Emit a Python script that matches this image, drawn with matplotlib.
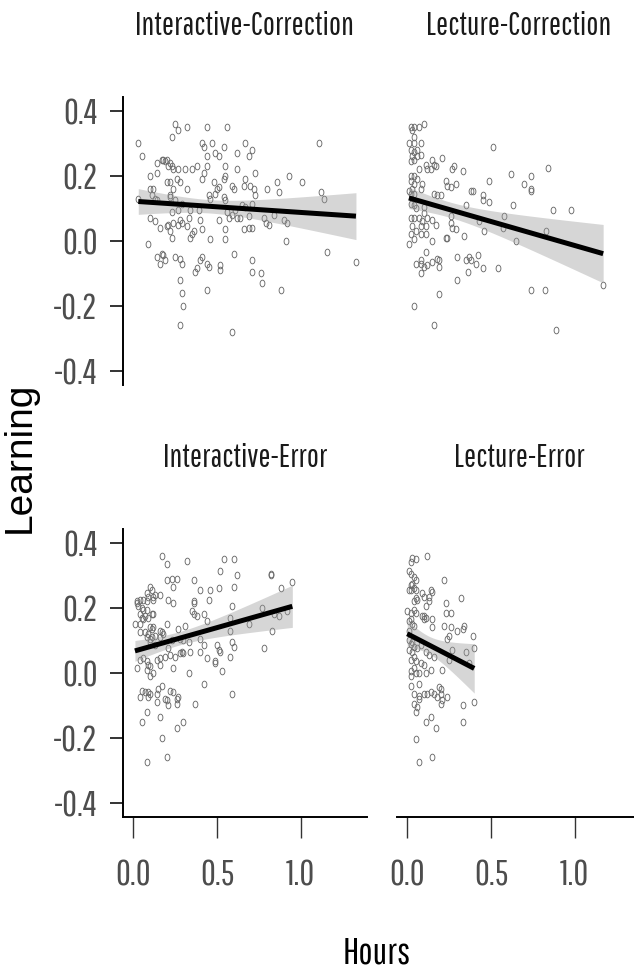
import numpy as np
import matplotlib
matplotlib.use("Agg")
import matplotlib.pyplot as plt
from matplotlib import font_manager
from matplotlib.path import Path

# ---------------- data ----------------
panel_titles = ["Interactive-Correction", "Lecture-Correction",
                "Interactive-Error", "Lecture-Error"]

ic_hours = [0.25, 0.27, 0.32, 0.44, 0.56, 0.23, 0.03, 0.05, 0.41, 0.42, 0.47, 0.54, 0.67, 0.71, 0.69,
            0.44, 0.49, 0.51, 0.62, 1.11, 0.18, 0.19, 0.20, 0.21, 0.23, 0.22, 0.14, 0.14, 0.10, 0.17,
            0.27, 0.31, 0.35, 0.38, 0.44, 0.42, 0.55, 0.62, 0.73, 0.93, 1.01, 0.20, 0.22, 0.26, 0.28,
            0.24, 0.22, 0.22, 0.32, 0.10, 0.12, 0.41, 0.48, 0.50, 0.51, 0.54, 0.55, 0.59, 0.60, 0.66,
            0.67, 0.70, 0.72, 0.73, 0.80, 0.86, 0.87, 1.12, 1.14, 0.24, 0.03, 0.11, 0.13, 0.14, 0.25,
            0.29, 0.34, 0.39, 0.45, 0.46, 0.54, 0.55, 0.56, 0.61, 0.65, 0.67, 0.71, 0.49, 0.10, 0.13,
            0.16, 0.20, 0.21, 0.24, 0.23, 0.27, 0.28, 0.29, 0.27, 0.33, 0.32, 0.35, 0.36, 0.34, 0.40,
            0.41, 0.46, 0.51, 0.55, 0.55, 0.57, 0.59, 0.62, 0.64, 0.66, 0.69, 0.69, 0.71, 0.78, 0.79,
            0.81, 0.84, 0.90, 0.92, 0.91, 0.22, 0.23, 0.09, 0.14, 0.16, 0.17, 0.18, 0.19, 0.25, 0.28,
            0.29, 0.37, 0.38, 0.40, 0.41, 0.44, 0.45, 0.52, 0.52, 0.60, 0.71, 0.71, 0.76, 0.77, 0.88,
            1.16, 1.33, 0.28, 0.29, 0.30, 0.44, 0.28, 0.59]
ic_learning = [0.36, 0.34, 0.35, 0.35, 0.35, 0.32, 0.30, 0.26, 0.30, 0.29, 0.30, 0.29, 0.30, 0.28, 0.26,
               0.26, 0.27, 0.26, 0.27, 0.30, 0.25, 0.245, 0.25, 0.23, 0.23, 0.24, 0.24, 0.21, 0.20, 0.25,
               0.22, 0.22, 0.22, 0.23, 0.23, 0.21, 0.23, 0.22, 0.21, 0.20, 0.18, 0.18, 0.18, 0.19, 0.18,
               0.16, 0.14, 0.135, 0.16, 0.16, 0.16, 0.19, 0.18, 0.16, 0.165, 0.19, 0.20, 0.17, 0.16, 0.17,
               0.19, 0.17, 0.16, 0.14, 0.16, 0.18, 0.15, 0.15, 0.13, 0.22, 0.13, 0.14, 0.13, 0.125, 0.125,
               0.115, 0.095, 0.095, 0.14, 0.13, 0.135, 0.125, 0.09, 0.095, 0.11, 0.105, 0.115, 0.145, 0.07, 0.06,
               0.04, 0.045, 0.05, 0.055, 0.09, 0.095, 0.065, 0.055, 0.05, 0.07, 0.045, 0.02, 0.03, 0.01, 0.065,
               0.035, 0.005, 0.065, 0.035, 0.005, 0.07, 0.08, 0.07, 0.07, 0.035, 0.075, 0.04, 0.04, 0.07, 0.055,
               0.05, 0.08, 0.065, 0.055, 0.0, 0.03, 0.01, -0.01, -0.05, -0.07, -0.04, -0.045, -0.06, -0.05, -0.055,
               -0.07, -0.095, -0.085, -0.06, -0.05, -0.07, -0.08, -0.075, -0.09, -0.04, -0.06, -0.095, -0.10, -0.13, -0.15,
               -0.035, -0.065, -0.12, -0.16, -0.20, -0.15, -0.26, -0.28]

lc_hours = [0.02, 0.04, 0.03, 0.07, 0.10, 0.04, 0.01, 0.04, 0.08, 0.02, 0.04, 0.06, 0.03, 0.08, 0.02,
            0.04, 0.06, 0.21, 0.15, 0.16, 0.17, 0.14, 0.11, 0.12, 0.07, 0.28, 0.27, 0.33, 0.51, 0.84,
            0.62, 0.74, 0.70, 0.74, 0.74, 0.49, 0.23, 0.24, 0.26, 0.29, 0.02, 0.04, 0.02, 0.06, 0.04,
            0.09, 0.08, 0.01, 0.03, 0.02, 0.04, 0.16, 0.18, 0.20, 0.38, 0.39, 0.45, 0.45, 0.49, 0.63,
            0.87, 0.98, 0.35, 0.02, 0.04, 0.05, 0.10, 0.10, 0.02, 0.04, 0.07, 0.09, 0.12, 0.15, 0.17,
            0.26, 0.26, 0.27, 0.29, 0.23, 0.24, 0.34, 0.15, 0.11, 0.08, 0.11, 0.08, 0.05, 0.03, 0.02,
            0.01, 0.04, 0.43, 0.46, 0.58, 0.57, 0.65, 0.83, 0.11, 0.08, 0.05, 0.08, 0.10, 0.08, 0.12,
            0.15, 0.18, 0.19, 0.19, 0.30, 0.35, 0.37, 0.38, 0.42, 0.41, 0.36, 0.45, 0.54, 0.30, 0.74,
            0.82, 1.17, 0.19, 0.04, 0.16, 0.89]
lc_learning = [0.35, 0.35, 0.34, 0.35, 0.36, 0.32, 0.30, 0.30, 0.30, 0.28, 0.275, 0.28, 0.26, 0.265, 0.245,
               0.25, 0.26, 0.255, 0.25, 0.235, 0.23, 0.22, 0.235, 0.22, 0.22, 0.23, 0.22, 0.215, 0.29, 0.225,
               0.205, 0.20, 0.175, 0.16, 0.155, 0.185, 0.185, 0.17, 0.165, 0.175, 0.20, 0.20, 0.185, 0.19, 0.175,
               0.175, 0.16, 0.155, 0.16, 0.145, 0.145, 0.145, 0.14, 0.14, 0.155, 0.155, 0.14, 0.125, 0.12, 0.11,
               0.095, 0.095, 0.11, 0.115, 0.11, 0.10, 0.105, 0.085, 0.07, 0.07, 0.07, 0.06, 0.07, 0.065, 0.05,
               0.075, 0.055, 0.04, 0.035, 0.01, 0.01, 0.015, 0.0, 0.045, 0.045, 0.02, 0.02, 0.03, 0.045, 0.02,
               -0.01, 0.005, 0.06, 0.03, 0.075, 0.04, 0.0, 0.03, -0.035, -0.06, -0.07, -0.07, -0.08, -0.10, -0.075,
               -0.065, -0.055, -0.06, -0.08, -0.05, -0.06, -0.05, -0.06, -0.045, -0.07, -0.095, -0.085, -0.085, -0.12, -0.15,
               -0.15, -0.135, -0.165, -0.20, -0.26, -0.275]

ie_hours = [0.17, 0.20, 0.32, 0.54, 0.60, 0.52, 0.62, 0.82, 0.82, 0.95, 0.88, 0.20, 0.23, 0.26, 0.24,
            0.36, 0.40, 0.46, 0.51, 0.60, 0.45, 0.36, 0.365, 0.10, 0.11, 0.08, 0.09, 0.12, 0.13, 0.16,
            0.02, 0.025, 0.04, 0.06, 0.08, 0.12, 0.21, 0.24, 0.03, 0.05, 0.06, 0.08, 0.04, 0.05, 0.07,
            0.09, 0.06, 0.11, 0.12, 0.01, 0.04, 0.10, 0.11, 0.12, 0.20, 0.27, 0.31, 0.35, 0.36, 0.38,
            0.42, 0.44, 0.59, 0.58, 0.69, 0.77, 0.84, 0.87, 0.92, 0.83, 0.78, 0.04, 0.07, 0.09, 0.08,
            0.10, 0.11, 0.13, 0.16, 0.17, 0.18, 0.16, 0.10, 0.13, 0.23, 0.21, 0.28, 0.30, 0.33, 0.40,
            0.42, 0.50, 0.51, 0.52, 0.59, 0.60, 0.58, 0.02, 0.04, 0.06, 0.08, 0.09, 0.10, 0.08, 0.10,
            0.12, 0.14, 0.16, 0.16, 0.19, 0.22, 0.25, 0.28, 0.29, 0.30, 0.34, 0.40, 0.44, 0.49, 0.49,
            0.58, 0.33, 0.24, 0.53, 0.05, 0.07, 0.09, 0.10, 0.04, 0.09, 0.14, 0.15, 0.17, 0.14, 0.19,
            0.20, 0.22, 0.24, 0.27, 0.26, 0.26, 0.21, 0.42, 0.59, 0.37, 0.08, 0.05, 0.16, 0.30, 0.26,
            0.17, 0.08, 0.20]
ie_learning = [0.36, 0.335, 0.345, 0.35, 0.35, 0.315, 0.30, 0.305, 0.30, 0.28, 0.26, 0.285, 0.29, 0.29, 0.265,
               0.285, 0.255, 0.255, 0.26, 0.265, 0.225, 0.22, 0.215, 0.265, 0.255, 0.245, 0.235, 0.235, 0.24, 0.24,
               0.22, 0.215, 0.225, 0.225, 0.22, 0.225, 0.225, 0.215, 0.205, 0.20, 0.195, 0.195, 0.18, 0.17, 0.175,
               0.17, 0.165, 0.18, 0.18, 0.15, 0.15, 0.14, 0.135, 0.14, 0.15, 0.135, 0.145, 0.19, 0.18, 0.175,
               0.18, 0.16, 0.205, 0.17, 0.15, 0.20, 0.18, 0.175, 0.19, 0.13, 0.075, 0.125, 0.125, 0.12, 0.11,
               0.105, 0.11, 0.115, 0.13, 0.125, 0.12, 0.11, 0.095, 0.085, 0.10, 0.075, 0.105, 0.10, 0.095, 0.105,
               0.085, 0.085, 0.07, 0.065, 0.095, 0.08, 0.13, 0.015, 0.04, 0.045, 0.035, 0.025, 0.02, 0.01, -0.01,
               0.0, 0.04, 0.045, 0.025, 0.05, 0.055, 0.05, 0.06, 0.065, 0.06, 0.065, 0.065, 0.045, 0.035, 0.03,
               0.05, 0.0, 0.015, 0.005, -0.055, -0.06, -0.06, -0.065, -0.075, -0.075, -0.065, -0.05, -0.04, -0.09, -0.08,
               -0.085, -0.055, -0.06, -0.075, -0.08, -0.095, -0.10, -0.035, -0.065, -0.095, -0.12, -0.15, -0.135, -0.15, -0.17,
               -0.20, -0.275, -0.26]

le_hours = [0.03, 0.05, 0.12, 0.02, 0.01, 0.02, 0.04, 0.05, 0.03, 0.02, 0.01, 0.02, 0.04, 0.05, 0.22,
            0.32, 0.09, 0.10, 0.14, 0.15, 0.13, 0.13, 0.11, 0.05, 0.04, 0.06, 0.23, 0.0, 0.02, 0.04,
            0.05, 0.09, 0.10, 0.11, 0.10, 0.15, 0.15, 0.02, 0.01, 0.03, 0.04, 0.01, 0.23, 0.26, 0.22,
            0.26, 0.30, 0.33, 0.34, 0.39, 0.25, 0.24, 0.01, 0.02, 0.03, 0.04, 0.01, 0.03, 0.06, 0.08,
            0.11, 0.13, 0.16, 0.21, 0.27, 0.35, 0.40, 0.25, 0.37, 0.02, 0.04, 0.05, 0.08, 0.10, 0.04,
            0.02, 0.02, 0.05, 0.07, 0.11, 0.14, 0.02, 0.07, 0.04, 0.07, 0.07, 0.04, 0.06, 0.05, 0.10,
            0.12, 0.14, 0.16, 0.18, 0.19, 0.20, 0.20, 0.21, 0.20, 0.24, 0.33, 0.40, 0.11, 0.14, 0.17,
            0.33, 0.05, 0.07, 0.15]
le_learning = [0.355, 0.35, 0.36, 0.34, 0.315, 0.305, 0.295, 0.285, 0.275, 0.27, 0.255, 0.255, 0.26, 0.255, 0.285,
               0.23, 0.245, 0.235, 0.255, 0.25, 0.235, 0.22, 0.205, 0.23, 0.22, 0.225, 0.215, 0.19, 0.185, 0.195,
               0.185, 0.175, 0.175, 0.17, 0.165, 0.165, 0.14, 0.165, 0.16, 0.15, 0.145, 0.13, 0.185, 0.185, 0.145,
               0.14, 0.13, 0.135, 0.145, 0.115, 0.115, 0.105, 0.10, 0.09, 0.095, 0.08, 0.07, 0.065, 0.075, 0.085,
               0.065, 0.055, 0.05, 0.01, 0.07, 0.065, 0.075, 0.04, 0.03, 0.04, 0.05, 0.035, 0.03, 0.025, 0.015,
               0.005, -0.01, 0.0, 0.0, 0.0, 0.01, -0.04, -0.035, -0.065, -0.07, -0.08, -0.095, -0.105, -0.12, -0.065,
               -0.065, -0.06, -0.065, -0.075, -0.045, -0.05, -0.065, -0.085, -0.095, -0.075, -0.10, -0.09, -0.15, -0.135, -0.17,
               -0.15, -0.205, -0.275, -0.26]

panel_hours = [ic_hours, lc_hours, ie_hours, le_hours]
panel_learning = [ic_learning, lc_learning, ie_learning, le_learning]

y_ticks = [-0.4, -0.2, 0.0, 0.2, 0.4]
y_ticklabels = ["-0.4", "-0.2", "0.0", "0.2", "0.4"]
x_ticks = [0.0, 0.5, 1.0]
x_ticklabels = ["0.0", "0.5", "1.0"]
x_title = "Hours"
y_title = "Learning"

# ---------------- fonts ----------------
names = {f.name for f in font_manager.fontManager.ttflist}
cond = next((n for n in ["Pathway Gothic One", "Archivo Narrow", "Roboto Condensed",
                         "Liberation Sans"] if n in names), "DejaVu Sans")
plt.rcParams["font.family"] = [cond, "DejaVu Sans"]

# ---------------- figure ----------------
W, H = 634, 975
fig = plt.figure(figsize=(W / 100, H / 100), dpi=100)

def fx(px):
    return px / W

def fy(py):
    return 1 - py / H

panel_w = 244.3
panel_h = 287.7
lefts = [122.7, 396.7]
tops = [97.0, 529.0]
xlim = (-0.063, 1.396)
ylim = (-0.443, 0.443)

theta = np.linspace(0, 2 * np.pi, 41)
ell = Path(np.column_stack([0.72 * np.cos(theta), np.sin(theta)]))

t_crit = 1.97
tick_col = "#4d4d4d"

for i in range(4):
    r, c = divmod(i, 2)
    ax = fig.add_axes([fx(lefts[c]), fy(tops[r] + panel_h), panel_w / W, panel_h / H])
    ax.set_xlim(*xlim)
    ax.set_ylim(*ylim)
    x = np.asarray(panel_hours[i], float)
    y = np.asarray(panel_learning[i], float)

    n = len(x)
    b, a = np.polyfit(x, y, 1)
    resid = y - (a + b * x)
    s = np.sqrt(np.sum(resid ** 2) / (n - 2))
    xs = np.linspace(x.min(), x.max(), 100)
    ys = a + b * xs
    se = s * np.sqrt(1 / n + (xs - x.mean()) ** 2 / np.sum((x - x.mean()) ** 2))
    ax.fill_between(xs, ys - t_crit * se, ys + t_crit * se, color="#999999",
                    alpha=0.4, lw=0, zorder=2)
    ax.plot(x, y, linestyle="none", marker=ell, ms=4.8, mfc="none",
            mec="#6a6a6a", mew=0.65, zorder=1)
    ax.plot(xs, ys, color="black", lw=3.6, zorder=3, solid_capstyle="butt")

    ax.text(0.5, 1 + 62.0 / panel_h, panel_titles[i], transform=ax.transAxes,
            ha="center", va="baseline", fontsize=23, color="#1a1a1a")

    for sp in ["top", "right"]:
        ax.spines[sp].set_visible(False)
    ax.spines["left"].set_visible(c == 0)
    ax.spines["bottom"].set_visible(r == 1)
    for sp in ["left", "bottom"]:
        ax.spines[sp].set_linewidth(1.4)
        ax.spines[sp].set_color("black")

    ax.set_yticks(y_ticks)
    ax.set_xticks(x_ticks)
    if c == 0:
        ax.set_yticklabels(y_ticklabels)
        ax.tick_params(axis="y", length=9.2, width=1.4, color="#333333",
                       labelsize=26, labelcolor=tick_col, pad=9)
    else:
        ax.tick_params(axis="y", left=False, labelleft=False)
    if r == 1:
        ax.set_xticklabels(x_ticklabels)
        ax.tick_params(axis="x", length=15, width=1.0, color="#333333",
                       labelsize=26, labelcolor=tick_col, pad=15)
    else:
        ax.tick_params(axis="x", bottom=False, labelbottom=False)
    ax.patch.set_alpha(0)

fig.text(fx(377), fy(964), x_title, ha="center", va="baseline", fontsize=27, color="black")
fig.text(fx(20), fy(457), y_title, ha="center", va="center", rotation=90,
         fontsize=28, color="black", family=["Liberation Sans", "DejaVu Sans"])

fig.savefig("out.png", dpi=100)
